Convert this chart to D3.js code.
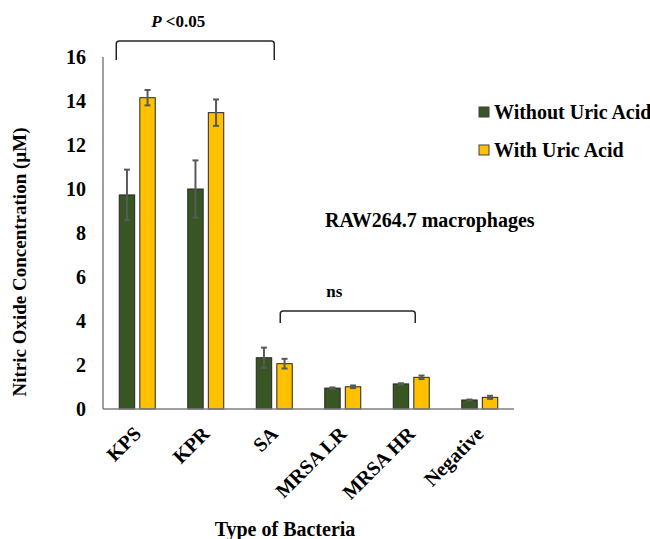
<!DOCTYPE html>
<html>
<head>
<meta charset="utf-8">
<script src="https://cdn.jsdelivr.net/npm/d3@7"></script>
<style>
  body { margin: 0; background: #fff; }
  text { font-family: "Liberation Serif", "Times New Roman", serif; font-weight: bold; fill: #000; }
</style>
</head>
<body>
<div id="chart"></div>
<script>
// Data
const categories = ["KPS", "KPR", "SA", "MRSA LR", "MRSA HR", "Negative"];
const seriesNames = ["Without Uric Acid", "With Uric Acid"];
const withoutUA = [9.73, 10.0, 2.33, 0.95, 1.14, 0.41];
const withoutUAErr = [1.15, 1.3, 0.46, 0.03, 0.03, 0.02];
const withUA = [14.15, 13.47, 2.06, 1.01, 1.44, 0.53];
const withUAErr = [0.35, 0.6, 0.22, 0.06, 0.08, 0.07];
const yTicks = [0, 2, 4, 6, 8, 10, 12, 14, 16];

const colors = ["#375623", "#FFC000"];

const W = 650, H = 539;
const plot = { left: 103, right: 514, top: 57, bottom: 409 };

const svg = d3.select("#chart")
    .append("svg")
    .attr("width", W)
    .attr("height", H);

const x = d3.scaleBand()
    .domain(categories)
    .range([plot.left, plot.right]);

const xs = d3.scaleBand()
    .domain(seriesNames)
    .range([-18, 18])
    .paddingInner(0.25);

const y = d3.scaleLinear()
    .domain([0, 16])
    .range([plot.bottom, plot.top]);

const cx = c => x(c) + x.bandwidth() / 2;

const rows = categories.map((c, i) => ({
    cat: c,
    vals: [
        { s: seriesNames[0], v: withoutUA[i], e: withoutUAErr[i], c: colors[0] },
        { s: seriesNames[1], v: withUA[i], e: withUAErr[i], c: colors[1] }
    ]
}));

const groups = svg.selectAll(".grp")
    .data(rows)
    .enter()
    .append("g")
    .attr("class", "grp")
    .attr("transform", d => `translate(${cx(d.cat)},0)`);

groups.selectAll("rect")
    .data(d => d.vals)
    .enter()
    .append("rect")
    .attr("x", d => xs(d.s))
    .attr("width", xs.bandwidth())
    .attr("y", d => y(d.v))
    .attr("height", d => y(0) - y(d.v))
    .attr("fill", d => d.c)
    .attr("stroke", "#262626")
    .attr("stroke-width", 1);

// error bars
const eb = groups.selectAll(".err")
    .data(d => d.vals)
    .enter()
    .append("g")
    .attr("class", "err")
    .attr("stroke", "#595959")
    .attr("stroke-width", 2);

eb.append("line")
    .attr("x1", d => xs(d.s) + xs.bandwidth() / 2)
    .attr("x2", d => xs(d.s) + xs.bandwidth() / 2)
    .attr("y1", d => y(d.v - d.e))
    .attr("y2", d => y(d.v + d.e));

[1, -1].forEach(sign => {
    eb.append("line")
        .attr("x1", d => xs(d.s) + xs.bandwidth() / 2 - 3)
        .attr("x2", d => xs(d.s) + xs.bandwidth() / 2 + 3)
        .attr("y1", d => y(d.v + sign * d.e))
        .attr("y2", d => y(d.v + sign * d.e));
});

// axes
svg.append("line")
    .attr("x1", plot.left).attr("x2", plot.left)
    .attr("y1", plot.top).attr("y2", plot.bottom)
    .attr("stroke", "#7f7f7f").attr("stroke-width", 1.5);

svg.append("line")
    .attr("x1", plot.left).attr("x2", plot.right)
    .attr("y1", plot.bottom).attr("y2", plot.bottom)
    .attr("stroke", "#7f7f7f").attr("stroke-width", 1.5);

svg.selectAll(".ytick")
    .data(yTicks)
    .enter()
    .append("text")
    .attr("class", "ytick")
    .attr("x", 86)
    .attr("y", d => y(d))
    .attr("dy", "0.35em")
    .attr("text-anchor", "end")
    .style("font-size", "20px")
    .text(d => d);

svg.selectAll(".xtick")
    .data(categories)
    .enter()
    .append("text")
    .attr("class", "xtick")
    .attr("text-anchor", "end")
    .attr("transform", d => `translate(${cx(d) + 5},${plot.bottom + 26}) rotate(-45)`)
    .style("font-size", "20px")
    .text(d => d);

svg.append("text")
    .attr("transform", `translate(26,262) rotate(-90)`)
    .attr("text-anchor", "middle")
    .style("font-size", "19px")
    .text("Nitric Oxide Concentration (µM)");

svg.append("text")
    .attr("x", 285)
    .attr("y", 536)
    .attr("text-anchor", "middle")
    .style("font-size", "20px")
    .text("Type of Bacteria");

// significance brackets
function bracket(x1, x2, top, drop, tx, label, italicP) {
    svg.append("path")
        .attr("d", `M${x1},${top + drop} L${x1},${top + 3} Q${x1},${top} ${x1 + 3},${top} L${x2 - 3},${top} Q${x2},${top} ${x2},${top + 3} L${x2},${top + drop}`)
        .attr("fill", "none")
        .attr("stroke", "#262626")
        .attr("stroke-width", 1.5);
    const t = svg.append("text")
        .attr("x", tx)
        .attr("y", top - 14)
        .attr("text-anchor", "middle")
        .style("font-size", "17px");
    if (italicP) {
        t.append("tspan").style("font-style", "italic").text("P");
        t.append("tspan").text("  " + label);
    } else {
        t.text(label);
    }
}
bracket(cx("KPS") - 21, cx("SA"), 41, 19, cx("KPS") + 41, "<0.05", true);
bracket(cx("SA") + 6, cx("MRSA HR") + 4, 311, 12, cx("SA") + 60, "ns", false);

svg.append("text")
    .attr("x", 325)
    .attr("y", 227)
    .style("font-size", "20px")
    .text("RAW264.7 macrophages");

// legend
const legend = svg.append("g")
    .attr("transform", "translate(479,107)");

legend.selectAll("rect")
    .data(seriesNames)
    .enter()
    .append("rect")
    .attr("x", 0)
    .attr("y", (d, i) => i * 38)
    .attr("width", 10)
    .attr("height", 10)
    .attr("fill", (d, i) => colors[i])
    .attr("stroke", "#404040")
    .attr("stroke-width", 1);

legend.selectAll("text")
    .data(seriesNames)
    .enter()
    .append("text")
    .attr("x", 15)
    .attr("y", (d, i) => i * 38 + 5)
    .attr("dy", "0.35em")
    .style("font-size", "20px")
    .text(d => d);
</script>
</body>
</html>
